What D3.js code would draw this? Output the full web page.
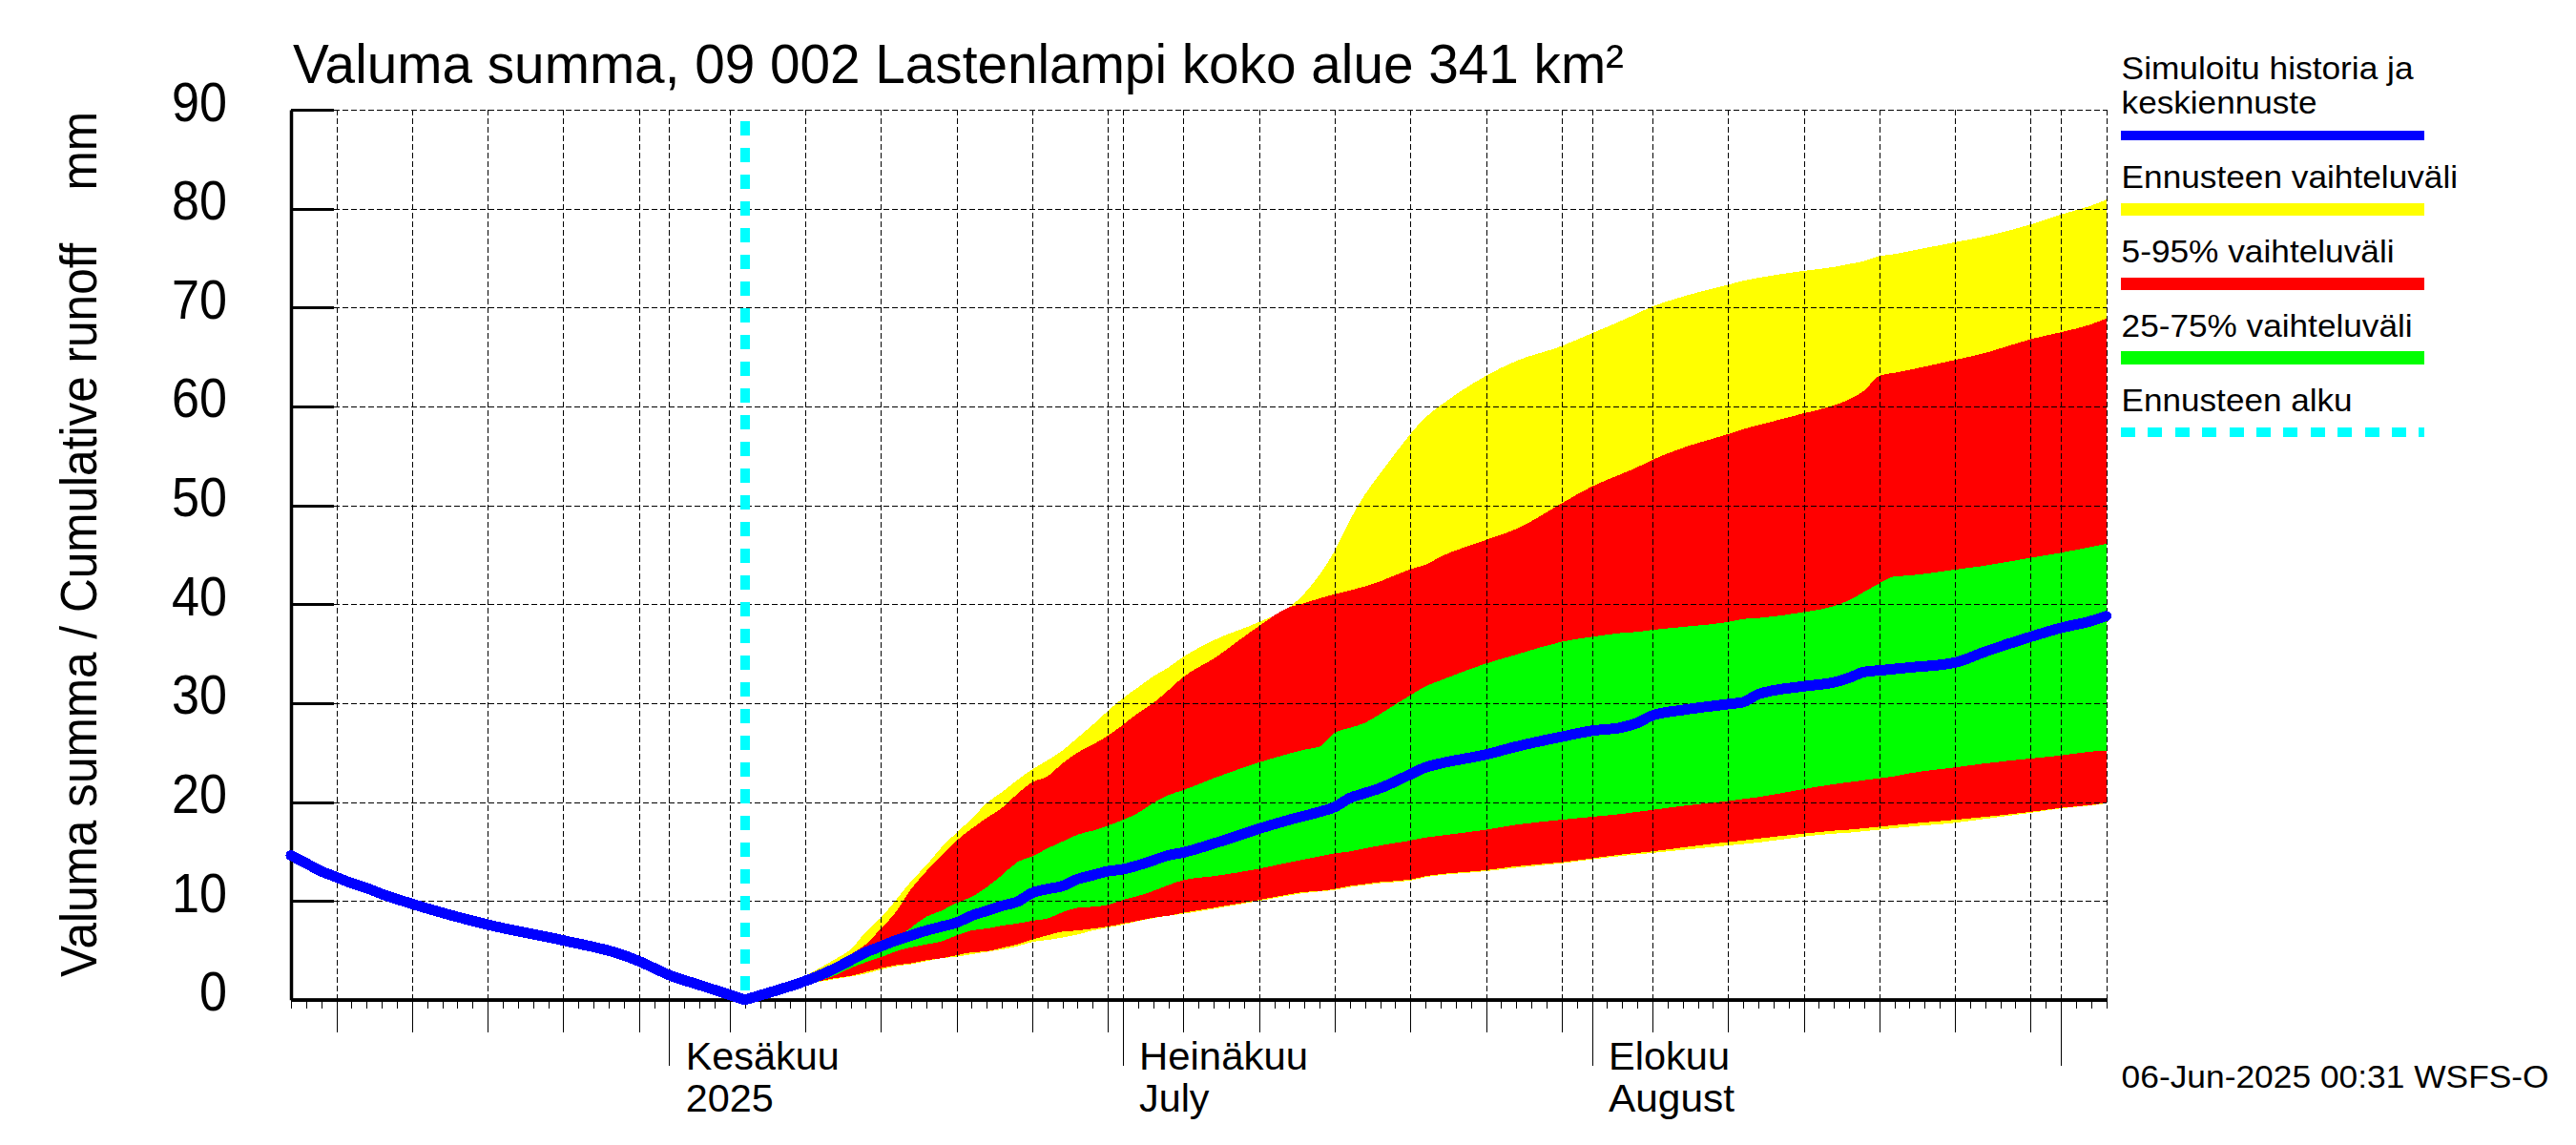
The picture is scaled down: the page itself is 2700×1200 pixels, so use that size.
<!DOCTYPE html>
<html lang="fi">
<head>
<meta charset="utf-8">
<title>Valuma summa</title>
<script src="https://d3js.org/d3.v7.min.js"></script>
<style>
  html, body { margin: 0; padding: 0; background: #fff; }
  svg { display: block; }
  text { font-family: "Liberation Sans", Arial, sans-serif; fill: #000; white-space: pre; }
</style>
</head>
<body>
<svg id="chart" width="2700" height="1200"></svg>
<script>
// values, mm
const historyDays = ["05-07","05-08","05-09","05-10","05-11","05-12","05-13","05-15","05-20","05-25","05-29","05-30","05-31","06-01","06-03","06-06"];
const historyValues = [14.6,13.8,13.0,12.4,11.8,11.3,10.7,9.7,7.6,6.0,4.5,3.9,3.2,2.5,1.5,0];

const forecastDays = [
  "06-06","06-08","06-10","06-11","06-12","06-13","06-14","06-15","06-16","06-17","06-18","06-19","06-20","06-21","06-22","06-23","06-24","06-25","06-26","06-27","06-28","06-29","06-30",
  "07-01","07-02","07-03","07-04","07-05","07-07","07-10","07-12","07-13","07-14","07-15","07-16","07-17","07-18","07-20","07-21","07-22","07-25","07-27","07-30",
  "08-01","08-03","08-04","08-05","08-07","08-10","08-11","08-12","08-15","08-17","08-18","08-19","08-20","08-21","08-22","08-25","08-27","08-30",
  "09-01","09-03","09-04"];
const yellowTop = [
  0,0.9,2.4,3.26,4.13,5.09,6.86,8.3,10.1,12,13.6,15.4,16.9,18.3,19.9,21,22.2,23.3,24.2,25.2,26.5,27.8,29.2,
  30.5,31.6,32.7,33.6,34.7,36.35,38.2,39.7,41.1,43,45.4,48.5,51.1,53.2,57.2,58.9,60.1,63.1,64.6,66.1,
  67.4,68.7,69.4,70.1,71.1,72.3,72.7,73,73.7,74.1,74.4,74.7,75.2,75.4,75.7,76.6,77.2,78.4,
  79.4,80.3,80.9];
const redTop = [
  0,0.9,2.3,3,3.7,4.6,5.6,7.2,8.9,11.2,13,14.6,16.1,17.3,18.4,19.4,20.8,22,22.6,23.9,25,25.8,26.7,
  27.8,29,30,31.3,32.65,34.5,37.8,39.7,40.1,40.6,41,41.4,41.8,42.3,43.55,44,44.8,46.5,47.6,50.2,
  51.9,53.2,53.85,54.6,55.8,57.2,57.7,58.1,59.3,60.1,60.7,61.6,63.1,63.4,63.7,64.7,65.4,66.8,
  67.5,68.3,68.9];
const greenTop = [
  0,0.9,1.9,2.5,3.1,3.8,4.5,5.2,6.2,7.3,8.4,9,9.8,10.4,11.4,12.6,13.9,14.5,15.3,16,16.7,17.1,17.6,
  18.2,18.9,19.9,20.7,21.2,22.4,24,24.9,25.3,25.6,27,27.5,28,28.9,30.8,31.7,32.3,34,34.9,36.2,
  36.7,37.1,37.2,37.4,37.7,38.2,38.5,38.6,39.2,39.8,40.4,41.25,42.1,42.8,42.9,43.5,43.9,44.7,
  45.2,45.8,46.1];
const meanForecast = [
  0,0.9,1.9,2.5,3.2,4,4.8,5.4,6,6.5,7,7.4,7.8,8.5,9,9.5,9.9,10.8,11.2,11.5,12.2,12.6,13,
  13.2,13.6,14.1,14.6,14.9,15.8,17.3,18.2,18.6,19,19.5,20.4,20.9,21.4,22.8,23.5,23.9,24.8,25.6,26.6,
  27.2,27.55,28,28.75,29.3,29.9,30.1,30.9,31.7,32.1,32.55,33.15,33.3,33.45,33.6,34.1,35.2,36.7,
  37.6,38.3,38.8];
const greenBottom = [
  0,0.9,1.9,2,2.5,3.2,3.8,4.3,4.9,5.3,5.6,5.9,6.5,7,7.2,7.5,7.7,8,8.2,8.85,9.3,9.4,9.6,
  10.1,10.5,11,11.6,12.1,12.5,13.25,13.9,14.2,14.5,14.8,15,15.3,15.6,16.1,16.4,16.6,17.2,17.7,18.2,
  18.5,18.8,19,19.2,19.6,20.1,20.3,20.5,21.3,21.8,22,22.2,22.4,22.6,22.9,23.5,23.9,24.4,
  24.7,25.1,25.2];
const redBottom = [
  0,0.9,1.8,1.9,2.2,2.4,2.8,3.2,3.5,3.7,4,4.2,4.5,4.8,4.9,5.25,5.6,6.1,6.5,6.9,7,7.2,7.4,
  7.7,8,8.3,8.5,8.8,9.3,10.1,10.66,10.9,11,11.2,11.5,11.7,11.9,12.15,12.5,12.7,13.1,13.5,13.9,
  14.3,14.7,14.85,15,15.4,15.95,16.1,16.3,16.8,17.1,17.2,17.35,17.5,17.65,17.8,18.2,18.5,19,
  19.4,19.7,19.9];
const yellowBottom = [
  0,0.9,1.8,1.85,2.1,2.35,2.65,3.05,3.4,3.6,3.9,4.2,4.35,4.6,4.85,5.1,5.4,5.85,6.05,6.3,6.6,7,7.3,
  7.6,7.95,8.25,8.5,8.7,9.2,10,10.55,10.8,10.95,11.1,11.4,11.6,11.8,12.05,12.4,12.6,13,13.35,13.8,
  14.2,14.55,14.7,14.85,15.15,15.6,15.75,15.9,16.5,16.8,16.9,17.05,17.2,17.35,17.5,17.9,18.3,18.9,
  19.35,19.65,19.85];

const yTicks = [0,10,20,30,40,50,60,70,80,90];
const legendLabels = ["Ennusteen vaihteluväli","5-95% vaihteluväli","25-75% vaihteluväli"];

const parse = d3.utcParse("%Y-%m-%d");
const day = s => parse("2025-" + s);

const svg = d3.select("#chart");
const plotLeft = 305, plotRight = 2207.6, plotTop = 115, plotBottom = 1047.8;

const x = d3.scaleUtc().domain([day("05-07"), day("09-04")]).range([plotLeft, plotRight]);
const y = d3.scaleLinear().domain([0, 90]).range([plotBottom, plotTop]);

const allDays = d3.utcDay.range(day("05-07"), d3.utcDay.offset(day("09-04"), 1));
const isFive = d => d.getUTCDate() % 5 === 0 && d.getUTCDate() <= 30;
const isMonth = d => d.getUTCDate() === 1;

const band = (hi, lo, fill) => {
  const area = d3.area()
    .curve(d3.curveMonotoneX)
    .x((d, i) => x(day(forecastDays[i])))
    .y0((d, i) => y(lo[i]))
    .y1(d => y(d));
  svg.append("path").attr("d", area(hi)).attr("fill", fill).attr("shape-rendering", "crispEdges");
};
band(yellowTop, yellowBottom, "#ffff00");
band(redTop, redBottom, "#ff0000");
band(greenTop, greenBottom, "#00ff00");

// dashed grid over the bands
const gridDays = allDays.filter(d => isFive(d) || isMonth(d)).concat([day("09-04")]);
const gx = svg.append("g").attr("transform", `translate(0,${plotBottom})`)
  .call(d3.axisBottom(x).tickValues(gridDays).tickSize(-(plotBottom - plotTop)).tickFormat(""));
const gy = svg.append("g").attr("transform", `translate(${plotLeft},0)`)
  .call(d3.axisLeft(y).tickValues(yTicks).tickSize(-(plotRight - plotLeft)).tickFormat(""));
[gx, gy].forEach(g => {
  g.select(".domain").remove();
  g.selectAll("line").attr("stroke", "#000").attr("stroke-width", 1).attr("stroke-dasharray", "6,3").attr("shape-rendering", "crispEdges");
});

// forecast start
svg.append("line")
  .attr("x1", x(day("06-06"))).attr("x2", x(day("06-06")))
  .attr("y1", 127).attr("y2", plotBottom)
  .attr("stroke", "#00ffff").attr("stroke-width", 10).attr("stroke-dasharray", "15,13")
  .attr("shape-rendering", "crispEdges");

// axes
const dayAxis = svg.append("g").attr("transform", `translate(0,${plotBottom})`)
  .call(d3.axisBottom(x).tickValues(allDays).tickSizeOuter(0).tickSizeInner(9).tickFormat(""));
const fiveAxis = svg.append("g").attr("transform", `translate(0,${plotBottom})`)
  .call(d3.axisBottom(x).tickValues(allDays.filter(isFive)).tickSizeOuter(0).tickSizeInner(34).tickFormat(""));
const monthAxis = svg.append("g").attr("transform", `translate(0,${plotBottom})`)
  .call(d3.axisBottom(x).tickValues(allDays.filter(isMonth)).tickSizeOuter(0).tickSizeInner(69).tickFormat(""));
[dayAxis, fiveAxis, monthAxis].forEach(g => {
  g.select(".domain").attr("stroke", "#000").attr("stroke-width", 3.5);
  g.selectAll("line").attr("stroke", "#000").attr("stroke-width", 1).attr("shape-rendering", "crispEdges");
});
const leftAxis = svg.append("g").attr("transform", `translate(${plotLeft},0)`)
  .call(d3.axisRight(y).tickValues(yTicks).tickSizeOuter(0).tickSizeInner(45).tickFormat(""));
leftAxis.select(".domain").attr("stroke", "#000").attr("stroke-width", 3.5);
leftAxis.selectAll("line").attr("stroke", "#000").attr("stroke-width", 3).attr("shape-rendering", "crispEdges");

// mean line, history and forecast meet in a sharp corner at the forecast start
const meanLine = d3.line().curve(d3.curveMonotoneX).x(d => x(d[0])).y(d => y(d[1]));
const historyPoints = historyDays.map((d, i) => [day(d), historyValues[i]]);
const forecastPoints = forecastDays.map((d, i) => [day(d), meanForecast[i]]);
[historyPoints, forecastPoints].forEach(points => {
  svg.append("path").attr("d", meanLine(points))
    .attr("fill", "none").attr("stroke", "#0000ff").attr("stroke-width", 11)
    .attr("stroke-linecap", "round").attr("stroke-linejoin", "round").attr("shape-rendering", "crispEdges");
});

// text, fitted to the measured widths of the original
function label(str, px, py, size, width, anchor) {
  const t = svg.append("text").attr("x", px).attr("y", py).attr("font-size", size).text(str);
  if (width) t.attr("textLength", width).attr("lengthAdjust", "spacingAndGlyphs");
  if (anchor) t.attr("text-anchor", anchor);
  return t;
}
label("Valuma summa, 09 002 Lastenlampi koko alue 341 km²", 307, 87, 57, 1395);

yTicks.forEach(v => {
  label(String(v), 238, y(v) + 11.5, 57, v === 0 ? 29 : 58, "end");
});

svg.append("text")
  .attr("transform", "translate(100.5,1024) rotate(-90)")
  .attr("font-size", 54)
  .attr("textLength", 907).attr("lengthAdjust", "spacingAndGlyphs")
  .text("Valuma summa / Cumulative runoff    mm");

label("Kesäkuu", 718.7, 1120.5, 41, 161);
label("2025", 718.7, 1164.5, 41, 92);
label("Heinäkuu", 1194, 1120.5, 41, 177);
label("July", 1194, 1164.5, 41, 73.5);
label("Elokuu", 1686, 1120.5, 41, 127);
label("August", 1686, 1164.5, 41, 132);

// legend
const legX1 = 2223, legX2 = 2541;
label("Simuloitu historia ja", 2223.6, 83.4, 33.7, 306);
label("keskiennuste", 2223.6, 118.6, 33.7, 205);
label(legendLabels[0], 2223.6, 197, 33.7, 352.5);
label(legendLabels[1], 2223.6, 275, 33.7, 286);
label(legendLabels[2], 2223.6, 353, 33.7, 305);
label("Ennusteen alku", 2223.6, 430.5, 33.7, 242);

const legendLine = (py, color, w, dash) => {
  const l = svg.append("line").attr("x1", legX1).attr("x2", legX2).attr("y1", py).attr("y2", py)
    .attr("stroke", color).attr("stroke-width", w).attr("shape-rendering", "crispEdges");
  if (dash) l.attr("stroke-dasharray", dash);
};
legendLine(142, "#0000ff", 10);
legendLine(219.5, "#ffff00", 13);
legendLine(297.5, "#ff0000", 13);
legendLine(375, "#00ff00", 14);
legendLine(453, "#00ffff", 10, "15,13.4");

label("06-Jun-2025 00:31 WSFS-O", 2223.6, 1139.6, 34, 448);
</script>
</body>
</html>
